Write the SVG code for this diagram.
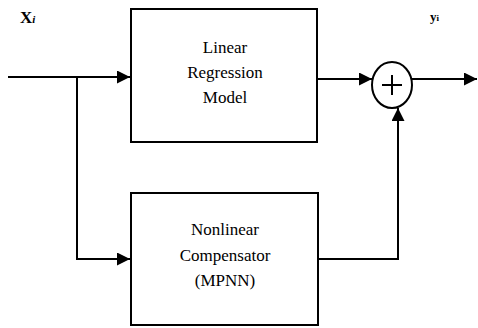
<svg xmlns="http://www.w3.org/2000/svg" width="478" height="328" viewBox="0 0 478 328">
<style>
.box{fill:#fff;stroke:#000;stroke-width:2}
.ln{fill:none;stroke:#000;stroke-width:2}
.t{font-family:'Liberation Serif',serif;font-size:17px;fill:#000;text-anchor:middle}
.lbl{font-family:'Liberation Serif',serif;font-weight:bold;fill:#000}
</style>
<defs>
<marker id="ah" viewBox="0 0 10 10" refX="10" refY="5" markerWidth="13" markerHeight="13" markerUnits="userSpaceOnUse" orient="auto">
<path d="M0,0 L10,5 L0,10 Z" fill="#000"/>
</marker>
</defs>
<rect width="478" height="328" fill="#fff"/>
<g id="connectors">
<path class="ln" d="M8,77 H130" marker-end="url(#ah)"/>
<path class="ln" d="M77,77 V259 H130" marker-end="url(#ah)"/>
<path class="ln" d="M317,79 H372" marker-end="url(#ah)"/>
<path class="ln" d="M318,259 H398 V108" marker-end="url(#ah)"/>
<path class="ln" d="M412,79 H477" marker-end="url(#ah)"/>
</g>
<g id="linear">
<rect class="box" x="131" y="9" width="186" height="133"/>
<text class="t" x="225" y="53">Linear</text>
<text class="t" x="225" y="78">Regression</text>
<text class="t" x="225" y="103">Model</text>
</g>
<g id="nonlinear">
<rect class="box" x="131" y="193" width="187" height="132"/>
<text class="t" x="225" y="235">Nonlinear</text>
<text class="t" x="225" y="261">Compensator</text>
<text class="t" x="225" y="286">(MPNN)</text>
</g>
<g id="sum">
<ellipse cx="392" cy="85" rx="20" ry="23" fill="#fff" stroke="#000" stroke-width="2"/>
<path class="ln" d="M382,85 H402 M392,75 V95" stroke-width="1.5"/>
</g>
<g id="labels">
<text class="lbl" x="20" y="23" font-size="17">X<tspan font-size="11" font-style="italic">i</tspan></text>
<text class="lbl" x="430" y="21" font-size="13">y<tspan font-size="9">i</tspan></text>
</g>
</svg>
